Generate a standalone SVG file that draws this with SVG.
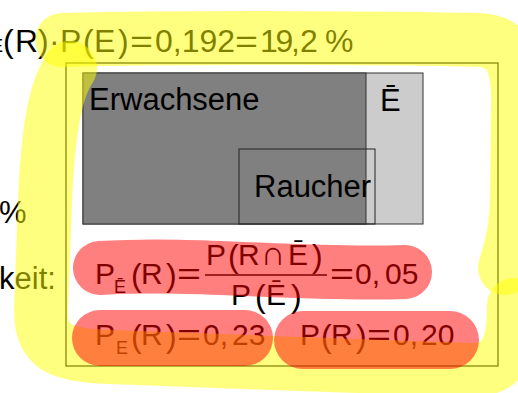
<svg xmlns="http://www.w3.org/2000/svg" width="518" height="393" viewBox="0 0 518 393">
<style>
text{font-family:"Liberation Sans",Arial,sans-serif;fill:#000}
.t{font-size:32px}
.f{font-size:30px}
.p{font-size:32px}
.s{font-size:18px}
.l{font-size:31px}
.hy{fill:none;stroke:#ffff00;stroke-opacity:0.5;stroke-width:54;stroke-linecap:round;stroke-linejoin:round}
.hr{fill:none;stroke:#ff0000;stroke-opacity:0.5;stroke-linecap:round;stroke-linejoin:round}
</style>
<rect width="518" height="393" fill="#fff"/>
<g id="left-text">
<text class="l" x="-1" y="223">%</text>
<text class="l" x="-1" y="289">keit:</text>
</g>
<g id="top-formula">
<text class="s" x="-9" y="52">E</text>
<text class="t" x="3" y="52">(</text>
<text class="t" x="15" y="52">R</text>
<text class="t" x="38" y="52">)</text>
<text class="t" x="49" y="52">·</text>
<text class="t" x="60" y="52">P</text>
<text class="t" x="83" y="52">(</text>
<text class="t" x="94" y="52">E</text>
<text class="t" x="118" y="52">)</text>
<text class="t" x="130" y="52" textLength="23" lengthAdjust="spacingAndGlyphs">=</text>
<text class="t" x="155" y="52">0,192</text>
<text class="t" x="235" y="52" textLength="23" lengthAdjust="spacingAndGlyphs">=</text>
<text class="t" x="260" y="52" textLength="40" lengthAdjust="spacing">19,</text>
<text class="t" x="300" y="52">2</text>
<text class="t" x="325" y="52">%</text>
</g>
<g id="frame">
<rect x="66" y="63" width="432" height="303" fill="none" stroke="#000" stroke-width="1.2"/>
</g>
<g id="venn">
<rect x="83" y="73" width="340" height="151" fill="#cccccc" stroke="#333" stroke-width="1"/>
<rect x="83" y="73" width="283" height="151" fill="#808080" stroke="#333" stroke-width="1"/>
<rect x="239" y="149" width="136" height="75" fill="none" stroke="#222" stroke-width="1"/>
<text class="l" x="89" y="110">Erwachsene</text>
<text class="l" x="254" y="197">Raucher</text>
<text class="l" x="380" y="111">Ē</text>
</g>
<g id="formula-cond">
<text class="f" x="95" y="284">P</text>
<text class="s" x="114" y="293">Ē</text>
<text class="p" x="131" y="286">(</text>
<text class="f" x="141" y="284">R</text>
<text class="p" x="166" y="286">)</text>
<text class="f" x="177" y="284" textLength="24" lengthAdjust="spacingAndGlyphs">=</text>
<text class="f" x="206" y="265">P</text>
<text class="p" x="228" y="267">(</text>
<text class="f" x="238" y="265">R</text>
<text x="261" y="265" style="font-size:34px">∩</text>
<text class="f" x="288" y="265">Ē</text>
<text class="p" x="312" y="267">)</text>
<line x1="205" y1="275" x2="327" y2="275" stroke="#000" stroke-width="1.6"/>
<text class="f" x="231" y="305">P</text>
<text class="p" x="255" y="307">(</text>
<text class="f" x="266" y="305">Ē</text>
<text class="p" x="291" y="307">)</text>
<text class="f" x="330" y="284" textLength="24" lengthAdjust="spacingAndGlyphs">=</text>
<text class="f" x="355" y="284">0,</text>
<text class="f" x="385" y="284">05</text>
</g>
<g id="formula-pe">
<text class="f" x="95" y="345">P</text>
<text class="s" x="116" y="354">E</text>
<text class="p" x="131" y="347">(</text>
<text class="f" x="141" y="345">R</text>
<text class="p" x="166" y="347">)</text>
<text class="f" x="177" y="345" textLength="24" lengthAdjust="spacingAndGlyphs">=</text>
<text class="f" x="203" y="345">0,</text>
<text class="f" x="232" y="345">23</text>
</g>
<g id="formula-pr">
<text class="f" x="300" y="345">P</text>
<text class="p" x="321" y="347">(</text>
<text class="f" x="331" y="345">R</text>
<text class="p" x="356" y="347">)</text>
<text class="f" x="367" y="345" textLength="24" lengthAdjust="spacingAndGlyphs">=</text>
<text class="f" x="393" y="345">0,</text>
<text class="f" x="421" y="345">20</text>
</g>
<g id="highlight-yellow">
<path class="hy" d="M62,40 C200,37 400,38 480,40 C508,42 518,60 518,100 L517,200 C516,235 510,250 505,268"/>
<path class="hy" d="M514,305 C514,345 507,370 470,370 L300,364 L110,357 C55,355 41,345 41,310 L45,200 C48,130 55,90 70,68" stroke-width="52"/>
</g>
<g id="highlight-red">
<path class="hr" d="M100,268 C200,262 300,276 405,272" stroke-width="54"/>
<path class="hr" d="M100,338 L245,338" stroke-width="56"/>
<path class="hr" d="M303,340 L450,340" stroke-width="58"/>
</g>
</svg>
